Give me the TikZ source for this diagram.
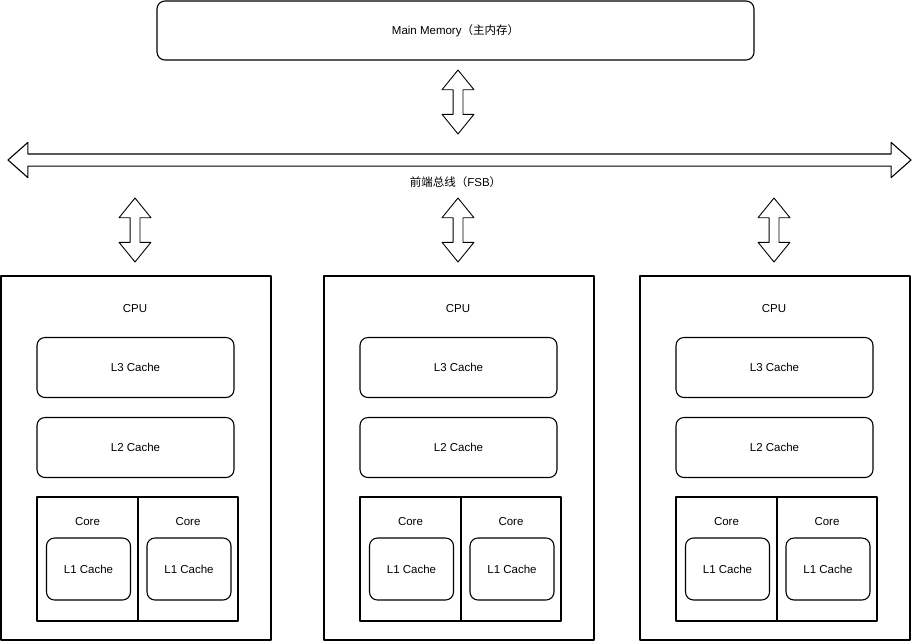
\documentclass[tikz,border=0pt]{standalone}
\usepackage{fontspec}
\setmainfont{Liberation Sans}
\newfontfamily\cjk{Noto Sans CJK SC}
\usetikzlibrary{positioning, shapes.arrows, calc}

\tikzset{
    box/.style={draw, line width=1.1pt, inner sep=0pt},
    cache/.style={box, rounded corners=8pt},
    vlink/.style={draw, line width=0.9pt, double arrow, rotate=90, inner sep=4.5pt,
        double arrow head extend=11pt, double arrow tip angle=78, minimum height=64pt},
    busline/.style={draw, line width=1.1pt, double arrow, inner sep=5.5pt,
        double arrow head extend=11.5pt, double arrow tip angle=83, minimum height=903pt}
}

\begin{document}
\begin{tikzpicture}[
    x=1pt, y=-1pt, line join=round,
    every node/.style={font=\fontsize{11.5}{13}\selectfont}
]
\useasboundingbox (0,0) rectangle (912,641);

% Main memory
\node[cache, minimum width=597pt, minimum height=59pt] (mem) at (455.5,30.5)
    {Main Memory{\cjk（主内存）}};
\node[vlink] (memlink) at (458,102) {};

% Front side bus
\node[busline] (bus) at (459.5,160) {};
\node (fsb) at ($(bus.center)+(-4,22)$) {{\cjk 前端总线（}FSB{\cjk ）}};

% CPUs
\foreach \i/\dx in {1/0, 2/323, 3/639} {
    \node[vlink] (cpulink\i) at (135+\dx,230) {};
    \node[box, minimum width=270pt, minimum height=364pt] (cpu\i) at (136+\dx,458) {};
    \node (cputext\i) at ($(cpu\i.north)+(-1,33)$) {CPU};
    \node[cache, minimum width=197pt, minimum height=60pt] (lthree\i) at (135.5+\dx,367.5) {L3 Cache};
    \node[cache, minimum width=197pt, minimum height=60pt] (ltwo\i) at (135.5+\dx,447.5) {L2 Cache};
    % two cores
    \node[box, minimum width=101pt, minimum height=124pt] (corea\i) at (87.5+\dx,559) {};
    \node[box, minimum width=100pt, minimum height=124pt] (coreb\i) at (188+\dx,559) {};
    \node (coreatext\i) at ($(corea\i.north)+(0,25)$) {Core};
    \node (corebtext\i) at ($(coreb\i.north)+(0,25)$) {Core};
    \node[cache, minimum width=84pt, minimum height=62pt] (lonea\i) at ($(corea\i.center)+(1,10)$) {L1 Cache};
    \node[cache, minimum width=84pt, minimum height=62pt] (loneb\i) at ($(coreb\i.center)+(1,10)$) {L1 Cache};
}
\end{tikzpicture}
\end{document}
